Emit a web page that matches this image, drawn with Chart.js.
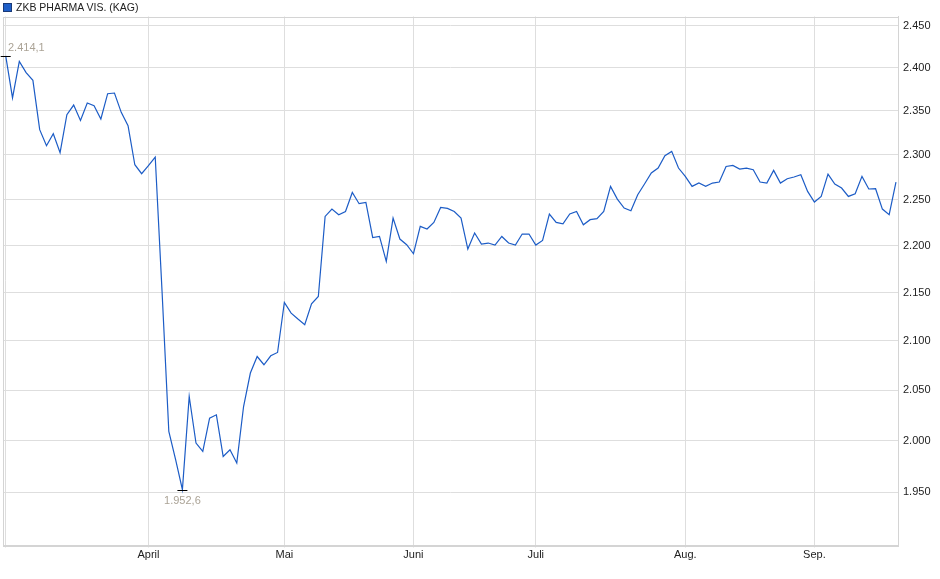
<!DOCTYPE html>
<html>
<head>
<meta charset="utf-8">
<script src="https://cdn.jsdelivr.net/npm/chart.js@4/dist/chart.umd.min.js"></script>
<style>
  html, body { margin: 0; padding: 0; background: #fff; }
  #wrap { position: relative; width: 940px; height: 579px; }
  #legend {
    position: absolute; left: 3px; top: 0px; height: 14px;
    font: 10.5px "Liberation Sans", Arial, sans-serif; color: #222;
    display: flex; align-items: center;
  }
  #legend span.box {
    display: inline-block; width: 7px; height: 7px; margin-right: 4px;
    background: #1f5fc8; border: 1px solid #1a3a78;
  }
</style>
</head>
<body>
<div id="wrap">
  <canvas id="myChart" width="940" height="579"></canvas>
  <div id="legend"><span class="box"></span>ZKB PHARMA VIS. (KAG)</div>
</div>
<script>
// daily prices, one per trading day (March - September)
const prices = [
  2414.1, 2364.9, 2407.6, 2394.3, 2385.3, 2328.5, 2310.3, 2323.9, 2302.4, 2345.6,
  2356.7, 2339.1, 2359.1, 2356.0, 2340.7, 2369.8, 2370.6, 2348.3, 2333.0, 2288.9,
  2278.9, 2287.8, 2297.5, 2152.1, 2009.0, 1981.4, 1952.6, 2043.6, 1997.6, 1989.4,
  2022.1, 2025.4, 1984.5, 1991.0, 1978.2, 2033.6, 2067.2, 2084.0, 2075.6, 2084.7,
  2088.1, 2139.8, 2128.7, 2122.5, 2116.6, 2138.4, 2146.1, 2231.8, 2239.8, 2233.6,
  2237.2, 2258.1, 2245.7, 2247.1, 2208.9, 2210.0, 2183.2, 2230.0, 2207.2, 2201.1,
  2191.4, 2220.9, 2218.1, 2225.2, 2241.6, 2240.5, 2237.2, 2230.0, 2196.4, 2213.7,
  2201.8, 2202.9, 2200.7, 2210.0, 2202.9, 2200.7, 2212.6, 2212.6, 2200.7, 2205.7,
  2234.4, 2225.2, 2223.8, 2234.4, 2237.2, 2222.7, 2228.2, 2229.3, 2237.2, 2264.8,
  2250.8, 2240.9, 2238.0, 2255.6, 2267.4, 2279.7, 2285.2, 2299.0, 2303.9, 2285.2,
  2275.9, 2264.8, 2268.5, 2264.8, 2268.5, 2269.6, 2287.0, 2288.1, 2284.1, 2285.2,
  2283.4, 2269.6, 2268.5, 2282.6, 2268.5, 2273.3, 2275.2, 2277.7, 2259.2, 2247.5,
  2253.7, 2278.5, 2267.4, 2263.0, 2253.7, 2256.7, 2275.9, 2261.9, 2262.2, 2239.8,
  2233.6, 2269.6
];

// first trading day of each month (index into prices) and its label
const monthStarts = [0, 21, 41, 60, 78, 100, 119];
const monthLabels = ['', 'April', 'Mai', 'Juni', 'Juli', 'Aug.', 'Sep.'];

const yTicks = [1950, 2000, 2050, 2100, 2150, 2200, 2250, 2300, 2350, 2400, 2450];

const FONT = '"Liberation Sans", Arial, sans-serif';

function fmtDe(v, dec) {
  const parts = v.toFixed(dec).split('.');
  const int = parts[0].replace(/\B(?=(\d{3})+(?!\d))/g, '.');
  return parts[1] ? int + ',' + parts[1] : int;
}

// box around the plot area
const framePlugin = {
  id: 'frame',
  beforeDatasetsDraw(chart) {
    const { ctx, chartArea: a } = chart;
    ctx.save();
    ctx.strokeStyle = '#d4d4d4';
    ctx.lineWidth = 1;
    ctx.strokeRect(Math.round(a.left) + 0.5, Math.round(a.top) + 0.5,
      Math.round(a.right - a.left), Math.round(a.bottom - a.top));
    ctx.restore();
  }
};

// high / low markers with their values
const extremesPlugin = {
  id: 'extremes',
  afterDatasetsDraw(chart) {
    const { ctx, chartArea: a, scales } = chart;
    const hi = prices.indexOf(Math.max(...prices));
    const lo = prices.indexOf(Math.min(...prices));
    ctx.save();
    ctx.font = '11px ' + FONT;
    ctx.textBaseline = 'middle';
    [[hi, -9], [lo, 10.5]].forEach(([i, dy]) => {
      const x = scales.x.getPixelForValue(i);
      const y = Math.round(scales.y.getPixelForValue(prices[i])) + 0.5;
      ctx.strokeStyle = '#000';
      ctx.lineWidth = 1;
      ctx.beginPath();
      ctx.moveTo(x - 5, y);
      ctx.lineTo(x + 5, y);
      ctx.stroke();
      const txt = fmtDe(prices[i], 1);
      const w = ctx.measureText(txt).width;
      let tx = x - w / 2;
      if (tx < a.left + 5) tx = a.left + 5;
      ctx.fillStyle = '#aba396';
      ctx.textAlign = 'left';
      ctx.fillText(txt, tx, y + dy);
    });
    ctx.restore();
  }
};

const ctx = document.getElementById('myChart').getContext('2d');

const myChart = new Chart(ctx, {
  type: 'line',
  data: {
    datasets: [{
      label: 'ZKB PHARMA VIS. (KAG)',
      data: prices.map((p, i) => ({ x: i, y: p })),
      borderColor: '#1c5cc6',
      borderWidth: 1.2,
      pointRadius: 0,
      fill: false,
      tension: 0
    }]
  },
  options: {
    responsive: false,
    animation: false,
    devicePixelRatio: 1,
    layout: { padding: { top: 16.5, left: 3, right: 0, bottom: 0 } },
    plugins: {
      legend: { display: false },
      tooltip: { enabled: false }
    },
    scales: {
      x: {
        type: 'linear',
        min: -0.4,
        max: 131.3,
        afterBuildTicks(scale) {
          scale.ticks = monthStarts.map(v => ({ value: v }));
        },
        afterFit(scale) { scale.height = 33.5; },
        ticks: {
          autoSkip: false,
          maxRotation: 0,
          padding: 1,
          color: '#222',
          font: { family: FONT, size: 11 },
          callback: (v) => monthLabels[monthStarts.indexOf(v)] ?? ''
        },
        grid: { color: '#dedede', tickLength: 2, lineWidth: 1 },
        border: { display: true, color: '#d4d4d4' }
      },
      y: {
        type: 'logarithmic',
        position: 'right',
        min: 1900,
        max: 2461,
        bounds: 'data',
        afterBuildTicks(scale) {
          scale.ticks = yTicks.map(v => ({ value: v }));
        },
        afterFit(scale) { scale.width = 42; },
        ticks: {
          autoSkip: false,
          padding: 5,
          color: '#222',
          font: { family: FONT, size: 11 },
          callback: (v) => fmtDe(v, 0)
        },
        grid: { color: '#dedede', tickLength: 0, lineWidth: 1 },
        border: { display: true, color: '#d4d4d4' }
      }
    }
  },
  plugins: [framePlugin, extremesPlugin]
});
</script>
</body>
</html>
